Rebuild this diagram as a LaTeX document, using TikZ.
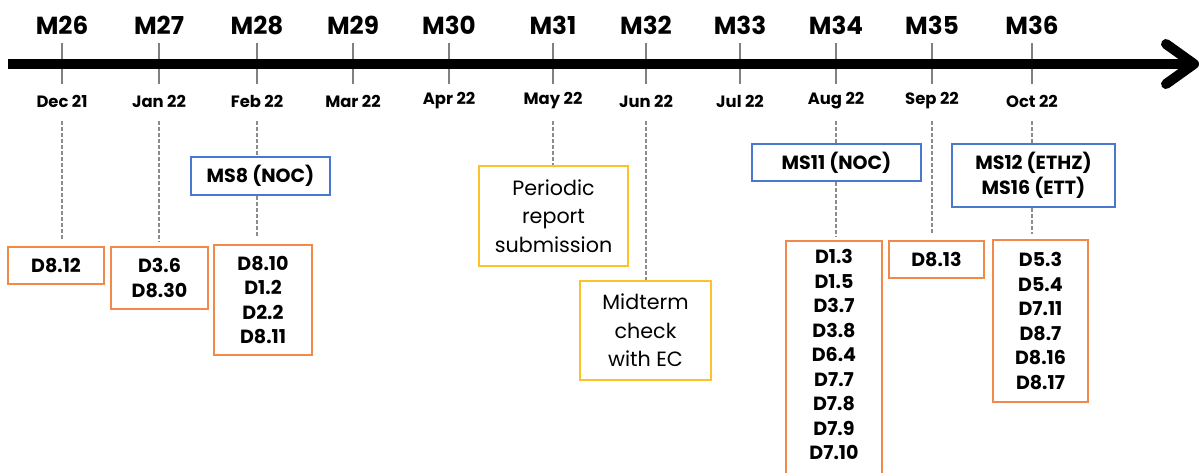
\documentclass[tikz,border=0pt]{standalone}
\usepackage{fontspec}
\setmainfont{Poppins}
\definecolor{dorange}{HTML}{F0894A}
\definecolor{msblue}{HTML}{4A78CF}
\definecolor{evyellow}{HTML}{FDC12A}
\definecolor{dashgray}{HTML}{8C8C8C}
\begin{document}
\begin{tikzpicture}[x=0.75pt,y=-0.75pt,
  mlabel/.style={font=\bfseries\fontsize{18.5}{20}\selectfont, inner sep=0pt},
  month/.style={font=\bfseries\fontsize{12.3}{14}\selectfont, inner sep=0pt},
  delbox/.style={draw=dorange, line width=1.5pt, align=center, inner sep=0pt,
     font=\bfseries\fontsize{14.3}{18.4}\selectfont},
  msbox/.style={draw=msblue, line width=1.5pt, align=center, inner sep=0pt,
     font=\bfseries\fontsize{14.3}{18.4}\selectfont},
  evbox/.style={draw=evyellow, line width=1.5pt, align=center, inner sep=0pt,
     font=\fontsize{15.5}{21.4}\selectfont},
  conn/.style={draw=dashgray, line width=0.9pt, dash pattern=on 3pt off 1.5pt},
  tick/.style={draw=gray, line width=0.9pt}]
\clip (0,0) rectangle (1199,472);
\fill[white] (0,0) rectangle (1199,472);

% ticks and labels
\foreach \n/\x/\m [count=\i] in {M26/62/Dec 21, M27/159/Jan 22, M28/257/Feb 22, M29/353/Mar 22, M30/449/Apr 22, M31/553/May 22, M32/646/Jun 22, M33/740/Jul 22, M34/836/Aug 22, M35/932/Sep 22, M36/1032/Oct 22}{
  \draw[tick] (\x,43) -- (\x,84);
  \node[mlabel] (m\i) at (\x,25) {\n};
  \node[month] (d\i) at (\x,101) {\m};
  \coordinate (c\i) at (\x,121);
}

% main timeline
\coordinate (tstart) at (8,64);
\coordinate (tend) at (1194,64);
\draw[line width=7.5pt] (tstart) -- (tend);
\draw[line width=7.5pt, line cap=round, line join=round] (1166,44) -- (tend) -- (1166,84);

% boxes
\node[delbox, minimum width=96*0.75pt, minimum height=37*0.75pt] (b1) at (56,265.5) {D8.12};
\node[delbox, minimum width=97*0.75pt, minimum height=62*0.75pt] (b2) at (159.5,278) {D3.6\\D8.30};
\node[msbox, minimum width=139*0.75pt, minimum height=38*0.75pt] (ms8) at (260.5,176) {MS8 (NOC)};
\node[delbox, minimum width=98*0.75pt, minimum height=110*0.75pt] (b3) at (263,300) {D8.10\\D1.2\\D2.2\\D8.11};
\node[evbox, minimum width=149*0.75pt, minimum height=100*0.75pt] (e1) at (553.5,216) {Periodic\\report\\submission};
\node[evbox, minimum width=131*0.75pt, minimum height=99*0.75pt] (e2) at (645.5,330.5) {Midterm\\check\\with EC};
\node[msbox, minimum width=169*0.75pt, minimum height=37*0.75pt] (ms11) at (836.5,162.5) {MS11 (NOC)};
\node[delbox, minimum width=96*0.75pt, minimum height=238*0.75pt, anchor=north] (b4) at (834,240) {};
\node[font=\bfseries\fontsize{14.3}{18.4}\selectfont, align=center, anchor=north, inner sep=0pt] (b4t) at (834,249) {D1.3\\D1.5\\D3.7\\D3.8\\D6.4\\D7.7\\D7.8\\D7.9\\D7.10};
\node[delbox, minimum width=95*0.75pt, minimum height=37*0.75pt] (b5) at (936.5,259.5) {D8.13};
\node[msbox, minimum width=163*0.75pt, minimum height=63*0.75pt] (ms12) at (1033.5,175.5) {MS12 (ETHZ)\\MS16 (ETT)};
\node[delbox, minimum width=95*0.75pt, minimum height=162*0.75pt] (b6) at (1040.5,321) {D5.3\\D5.4\\D7.11\\D8.7\\D8.16\\D8.17};

% dashed connectors
\draw[conn] (c1) -- ([yshift=5pt]c1 |- b1.north);
\draw[conn] (c2) -- ([yshift=3pt]c2 |- b2.north);
\draw[conn] (c3) -- (c3 |- ms8.north);
\draw[conn] (c3 |- ms8.south) -- ([yshift=5pt]c3 |- b3.north);
\draw[conn] (c6) -- (c6 |- e1.north);
\draw[conn] (c7) -- (c7 |- e2.north);
\draw[conn] (c9) -- (c9 |- ms11.north);
\draw[conn] (c9 |- ms11.south) -- ([yshift=2pt]c9 |- b4.north);
\draw[conn] (c10) -- ([yshift=4pt]c10 |- b5.north);
\draw[conn] (c11) -- (c11 |- ms12.north);
\draw[conn] (c11 |- ms12.south) -- ([yshift=4pt]c11 |- b6.north);
\end{tikzpicture}
\end{document}
